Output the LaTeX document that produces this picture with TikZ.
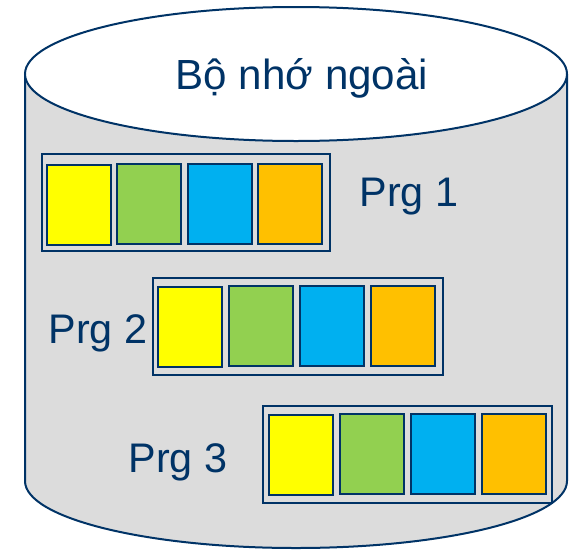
\documentclass[tikz,border=0pt]{standalone}
\usepackage{fontspec}
\setmainfont{Liberation Sans}
\definecolor{navy}{RGB}{0,51,102}
\definecolor{drum}{RGB}{220,220,220}
\definecolor{cyel}{RGB}{255,255,0}
\definecolor{cgrn}{RGB}{146,208,80}
\definecolor{cblu}{RGB}{0,176,240}
\definecolor{corg}{RGB}{255,192,0}
\begin{document}
\begin{tikzpicture}[x=0.75pt,y=-0.75pt,
  cell/.style={draw=navy,line width=1.5pt,minimum width=48pt,minimum height=60pt,inner sep=0pt},
  frame/.style={draw=navy,line width=1.5pt,minimum height=72.75pt,inner sep=0pt},
  lbl/.style={text=navy,font=\fontsize{31}{36}\selectfont,inner sep=0pt}]
\useasboundingbox (0,0) rectangle (574,550);
% cylinder body
\fill[drum] (25,74) -- (25,481) arc[start angle=180,end angle=0,x radius=271,y radius=67] -- (567,74) -- cycle;
\draw[navy,line width=1.5pt] (25,74) -- (25,481) arc[start angle=180,end angle=0,x radius=271,y radius=67] -- (567,74);
\draw[navy,line width=1.5pt,fill=white] (296,74) ellipse[x radius=271,y radius=67];
\node[lbl,font=\fontsize{31.6}{36}\selectfont] (title) at (302,78) {Bộ nhớ ngoài};
% row 1
\node[frame,minimum width=216pt] (f1) at (186,202.5) {};
\node[cell,fill=cyel] (a1) at (79,205) {};
\node[cell,fill=cgrn] (b1) at (149,204) {};
\node[cell,fill=cblu] (c1) at (220,204) {};
\node[cell,fill=corg] (d1) at (290,204) {};
\node[lbl] (p1) at (409,197) {Prg 1};
% row 2
\node[frame,minimum width=217.5pt] (f2) at (298,326.5) {};
\node[cell,fill=cyel] (a2) at (190,327) {};
\node[cell,fill=cgrn] (b2) at (260.5,326) {};
\node[cell,fill=cblu] (c2) at (331.5,326) {};
\node[cell,fill=corg] (d2) at (402.5,326) {};
\node[lbl] (p2) at (98,333) {Prg 2};
% row 3
\node[frame,minimum width=216.75pt] (f3) at (407.5,454.5) {};
\node[cell,fill=cyel] (a3) at (301,455) {};
\node[cell,fill=cgrn] (b3) at (371.5,454) {};
\node[cell,fill=cblu] (c3) at (442.5,454) {};
\node[cell,fill=corg] (d3) at (513.5,454) {};
\node[lbl] (p3) at (178,462) {Prg 3};
\end{tikzpicture}
\end{document}
